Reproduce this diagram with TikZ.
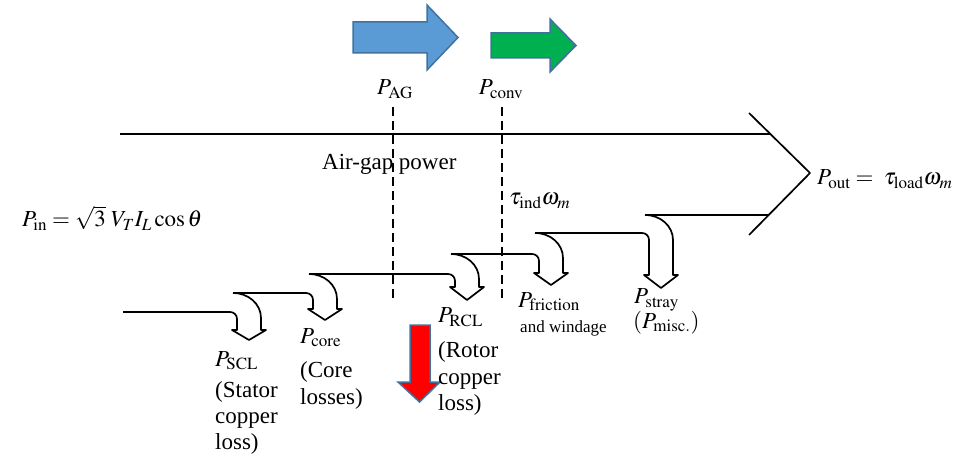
\documentclass[tikz,border=0pt]{standalone}
\usepackage{mathptmx}
\usepackage{fontspec}
\setmainfont{Liberation Serif}
\definecolor{arrowedge}{HTML}{41719C}
\definecolor{agblue}{HTML}{5B9BD5}
\definecolor{convgreen}{HTML}{00B050}
\definecolor{rclred}{HTML}{FF0000}
\newcommand\lossarrow[7]{% #1 x0, #2 yU, #3 yL, #4 base, #5 head height, #6 xleft, #7 name
  \draw[flow] (#6,#3) -- ({#1-3},#3)
    .. controls ({#1+1},#3) and ({#1+4},{#3+3}) .. ({#1+4},{#3+7})
    -- ({#1+4},#4) -- ({#1-1},#4) -- ({#1+16},{#4+#5}) coordinate (#7) -- ({#1+33},#4)
    -- ({#1+28},#4) -- ({#1+28},{#2+25})
    .. controls ({#1+28},{#2+11}) and ({#1+15.5},#2) .. (#1,#2);
}
\begin{document}
\begin{tikzpicture}[x=1pt,y=-1pt,
  flow/.style={line width=1.7pt, line join=round},
  gapline/.style={line width=1.9pt, dash pattern=on 9pt off 5pt},
  lbl/.style={inner sep=0pt, font=\fontsize{23}{26}\selectfont},
  smalllbl/.style={inner sep=0pt, font=\fontsize{17}{20}\selectfont},
  fatarrow/.style={draw=arrowedge, line width=1.5pt, line join=miter}]
\useasboundingbox (0,0) rectangle (975,457);

% colored block arrows
\draw[fatarrow, fill=agblue] (353,22) -- (427,22) -- (427,5) -- (458,37.5) -- (427,70) -- (427,53) -- (353,53) -- cycle;
\draw[fatarrow, fill=convgreen] (491,33) -- (550,33) -- (550,19) -- (576,45.5) -- (550,72) -- (550,58) -- (491,58) -- cycle;

% main flow outline
\coordinate (topstart) at (120,134);
\coordinate (chevtop) at (749,113);
\coordinate (chevtip) at (810,173);
\coordinate (chevbot) at (749,235);
\coordinate (topend) at (770,134);
\coordinate (lowend) at (768.7,215);
\draw[flow] (topstart) -- (topend);
\draw[flow] (chevtop) -- (chevtip) -- (chevbot);

\lossarrow{233}{293}{312}{330}{10}{123}{scl}
\lossarrow{309}{274}{293}{309}{11}{233}{core}
\lossarrow{451}{254}{274}{287}{13}{309}{rcl}
\lossarrow{535}{233}{254}{273}{12}{451}{fric}
\lossarrow{645}{215}{233}{275}{13}{535}{stray}
\draw[flow] (645,215) -- (lowend);

% dashed separators
\coordinate (agtop) at (393,107);
\coordinate (agbot) at (393,298);
\coordinate (cvtop) at (502,107);
\coordinate (cvbot) at (502,298);
\draw[gapline] (agtop) -- (agbot);
\draw[gapline] (cvtop) -- (cvbot);

% red arrow
\draw[fatarrow, fill=rclred] (410,325) -- (430,325) -- (430,382) -- (440,382) -- (419.5,402) -- (398,382) -- (410,382) -- cycle;

% labels
\node[lbl, anchor=base] (pag) at (395,95) {$P_{\mathrm{AG}}$};
\node[lbl, anchor=base] (pconv) at (501,95) {$P_{\mathrm{conv}}$};
\node[lbl, anchor=base west] (airgap) at (322,170) {Air-gap power};
\node[lbl, anchor=base west] (tind) at (509,205) {$\tau_{\mathrm{ind}}\omega_m$};
\node[lbl, anchor=base west] (pin) at (22,227) {$P_{\mathrm{in}} = \sqrt{3}\; V_T I_L \cos\theta$};
\node[lbl, anchor=base west] (pout) at (817,185) {$P_{\mathrm{out}} =\; \tau_{\mathrm{load}}\omega_m$};

\node[lbl, anchor=base west] (pscl) at (215,366) {$P_{\mathrm{SCL}}$};
\node[lbl, anchor=base west] (scl1) at (215,397) {(Stator};
\node[lbl, anchor=base west] (scl2) at (215,423) {copper};
\node[lbl, anchor=base west] (scl3) at (215,449) {loss)};

\node[lbl, anchor=base west] (pcore) at (300,343) {$P_{\mathrm{core}}$};
\node[lbl, anchor=base west] (core1) at (300,377) {(Core};
\node[lbl, anchor=base west] (core2) at (300,404) {losses)};

\node[lbl, anchor=base west] (prcl) at (438,323) {$P_{\mathrm{RCL}}$};
\node[lbl, anchor=base west] (rcl1) at (438,357) {(Rotor};
\node[lbl, anchor=base west] (rcl2) at (438,384) {copper};
\node[lbl, anchor=base west] (rcl3) at (438,410) {loss)};

\node[lbl, anchor=base west] (pfric) at (518,307) {$P_{\mathrm{friction}}$};
\node[smalllbl, anchor=base west] (fric1) at (520,332) {and windage};

\node[lbl, anchor=base west] (pstray) at (634,304) {$P_{\mathrm{stray}}$};
\node[lbl, anchor=base west] (stray1) at (633,328) {$(P_{\mathrm{misc.}})$};
\end{tikzpicture}
\end{document}
